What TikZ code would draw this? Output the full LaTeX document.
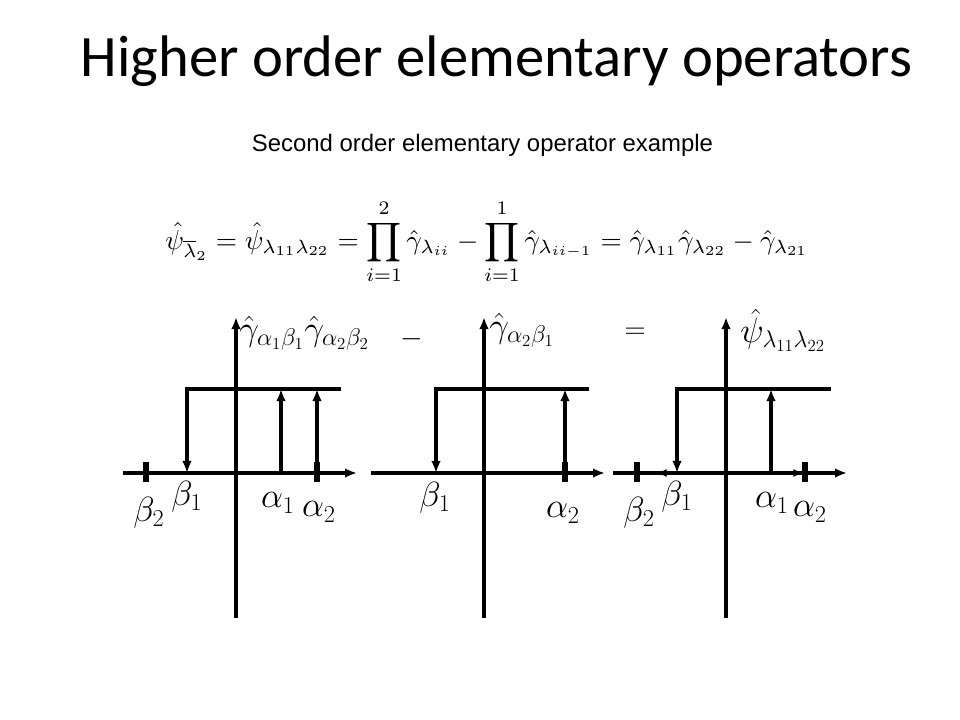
\documentclass[tikz,border=0pt]{standalone}
\usepackage{amsmath}
\usepackage{fontspec}
\newfontfamily\titlefont{Carlito}
\newfontfamily\subfont{Liberation Sans}
\usetikzlibrary{arrows.meta}
\begin{document}
\begin{tikzpicture}[x=0.025cm,y=-0.025cm,
  axisline/.style={line width=2.6pt,-{Latex[length=0.3cm,width=0.24cm]}},
  stemline/.style={line width=2.2pt,-{Latex[length=0.3cm,width=0.24cm]}},
  thinarrow/.style={line width=1pt,-{Latex[length=0.24cm,width=0.2cm]}},
  tickmark/.style={line width=3.6pt},
  lbl/.style={inner sep=0pt,font=\fontsize{24}{28}\selectfont},
  toplbl/.style={inner sep=0pt,anchor=west,font=\fontsize{23}{28}\selectfont},
  opsym/.style={inner sep=0pt,font=\fontsize{22}{26}\selectfont}]
\fill[white] (0,0) rectangle (960,720);
\path[use as bounding box] (0,0) rectangle (960,720);

\node (title) [anchor=base,inner sep=0pt,font=\titlefont\fontsize{41.7}{48}\selectfont] at (496.5,77) {Higher order elementary operators};
\node (subtitle) [anchor=base,inner sep=0pt,font=\subfont\fontsize{17}{20}\selectfont] at (482.5,152) {Second order elementary operator example};

\node (formula) [inner sep=0pt] at (487,242) {\resizebox{16.07cm}{!}{$\displaystyle
 \hat\psi_{\overline{\lambda}_2}=\hat\psi_{\lambda_{11}\lambda_{22}}=\prod_{i=1}^{2}\hat\gamma_{\lambda_{ii}}-\prod_{i=1}^{1}\hat\gamma_{\lambda_{ii-1}}=\hat\gamma_{\lambda_{11}}\hat\gamma_{\lambda_{22}}-\hat\gamma_{\lambda_{21}}$}};

% ---------- diagram 1 ----------
\coordinate (a1b) at (236,618); \coordinate (a1t) at (236,317);
\coordinate (h1l) at (123,473); \coordinate (h1r) at (357,473);
\coordinate (t1r) at (341,389); \coordinate (t1c) at (187,389); \coordinate (b1a) at (187,473);
\coordinate (al1a) at (281,473); \coordinate (al1t) at (281,389);
\coordinate (al2a) at (317,473); \coordinate (al2t) at (317,389);
\draw[axisline] (a1b) -- (a1t);
\draw[axisline] (h1l) -- (h1r);
\draw[stemline] (t1r) -- (t1c) -- (b1a);
\draw[stemline] (al1a) -- (al1t);
\draw[stemline] (al2a) -- (al2t);
\draw[tickmark] (146,462) -- (146,482);
\draw[tickmark] (317,462) -- (317,482);
\node (lb2a) [lbl] at (149,513) {$\beta_2$};
\node (lb1a) [lbl] at (187,497) {$\beta_1$};
\node (la1a) [lbl] at (278,503) {$\alpha_1$};
\node (la2a) [lbl] at (319,512) {$\alpha_2$};
\node (g1) [toplbl] at (239,333) {$\hat\gamma_{\alpha_1\beta_1}\hat\gamma_{\alpha_2\beta_2}$};

% ---------- diagram 2 ----------
\coordinate (a2b) at (484,618); \coordinate (a2t) at (484,317);
\coordinate (h2l) at (371,473); \coordinate (h2r) at (605,473);
\coordinate (t2r) at (589,389); \coordinate (t2c) at (436,389); \coordinate (b2a) at (436,473);
\coordinate (al3a) at (565,473); \coordinate (al3t) at (565,389);
\draw[axisline] (a2b) -- (a2t);
\draw[axisline] (h2l) -- (h2r);
\draw[stemline] (t2r) -- (t2c) -- (b2a);
\draw[stemline] (al3a) -- (al3t);
\draw[tickmark] (565,462) -- (565,482);
\node (lb1b) [lbl] at (435,498) {$\beta_1$};
\node (la2b) [lbl] at (563,513) {$\alpha_2$};
\node (g2) [toplbl] at (489,330) {$\hat\gamma_{\alpha_2\beta_1}$};
\node (minus) [opsym] at (412,339) {$-$};

% ---------- diagram 3 ----------
\coordinate (a3b) at (726,618); \coordinate (a3t) at (726,317);
\coordinate (h3l) at (613,473); \coordinate (h3r) at (847,473);
\coordinate (t3r) at (831,389); \coordinate (t3c) at (677,389); \coordinate (b3a) at (677,473);
\coordinate (al4a) at (771,473); \coordinate (al4t) at (771,389);
\coordinate (o3) at (726,473); \coordinate (ls) at (657,473); \coordinate (rs) at (803,473);
\draw[axisline] (a3b) -- (a3t);
\draw[axisline] (h3l) -- (h3r);
\draw[thinarrow] (o3) -- (ls);
\draw[thinarrow] (al4a) -- (rs);
\draw[stemline] (t3r) -- (t3c) -- (b3a);
\draw[stemline] (al4a) -- (al4t);
\draw[tickmark] (637,462) -- (637,482);
\draw[tickmark] (805,462) -- (805,482);
\node (lb2c) [lbl] at (639,513) {$\beta_2$};
\node (lb1c) [lbl] at (677,497) {$\beta_1$};
\node (la1c) [lbl] at (772,503) {$\alpha_1$};
\node (la2c) [lbl] at (810,512) {$\alpha_2$};
\node (p3) [toplbl] at (740,330) {$\hat\psi_{\lambda_{11}\lambda_{22}}$};
\node (equal) [opsym] at (635,333) {$=$};
\end{tikzpicture}
\end{document}
